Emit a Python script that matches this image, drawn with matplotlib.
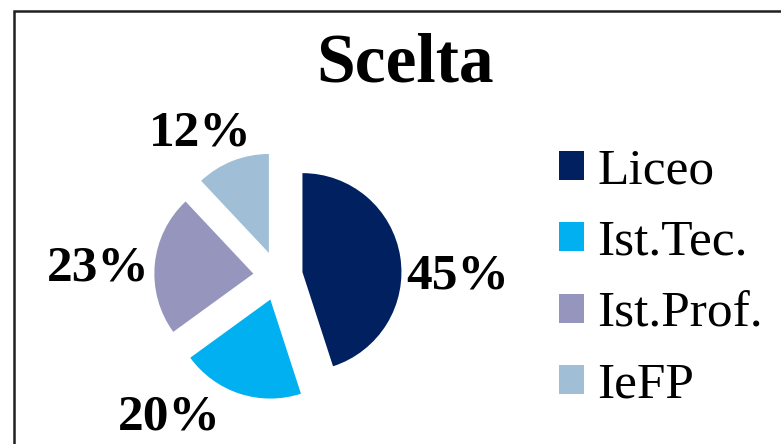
import matplotlib
matplotlib.use("Agg")
import matplotlib.pyplot as plt
from matplotlib.patches import Rectangle
import numpy as np

title = "Scelta"
categories = ["Liceo", "Ist.Tec.", "Ist.Prof.", "IeFP"]
values = [45, 20, 23, 12]
colors = ["#002060", "#00B0F0", "#9595BE", "#A0BED6"]

# layout for the percentage labels (distance from wedge centre, angle offset in deg)
label_dist = [1.57, 1.54, 1.57, 1.43]
label_dang = [-9, -23.5, 2, 7.5]
label_dy = -0.04

plt.rcParams['font.family'] = ['Liberation Serif', 'DejaVu Serif']

W, H = 781, 444
fig = plt.figure(figsize=(W / 100, H / 100), dpi=100)

# frame
fig.patches.append(Rectangle((14 / W, -0.1), 1.2, (H - 11) / H + 0.1, transform=fig.transFigure,
                             fill=False, edgecolor="#202020", linewidth=1.8))

cx, cy, r = 278, H - 276, 99
L = 2.0
ax = fig.add_axes([(cx - L * r) / W, (cy - L * r) / H, 2 * L * r / W, 2 * L * r / H])

wedges, texts, autotexts = ax.pie(values, colors=colors, startangle=90, counterclock=False,
                                  explode=[0.25] * len(values), radius=1.0,
                                  autopct="%1.0f%%", pctdistance=1.5,
                                  textprops=dict(fontsize=37, fontweight="bold", color="black"))
ax.set_xlim(-L, L)
ax.set_ylim(-L, L)
ax.set_aspect("equal")
ax.axis("off")
for w, t, d, da in zip(wedges, autotexts, label_dist, label_dang):
    mid = np.deg2rad((w.theta1 + w.theta2) / 2 + da)
    x0, y0 = w.center
    t.set_position((x0 + d * np.cos(mid), y0 + d * np.sin(mid) + label_dy))
    t.set_ha("center")
    t.set_va("center")

fig.text(405 / W, 1 - 64 / H, title, ha="center", va="center", fontsize=50, fontweight="bold")

leg = fig.legend(wedges, categories, loc="upper left", bbox_to_anchor=(559 / W, 1 - 148 / H),
                 frameon=False, fontsize=37, handlelength=0.49, handleheight=0.49,
                 handletextpad=0.25, labelspacing=0.485, borderaxespad=0, borderpad=0)

fig.savefig("out.png", dpi=100)
